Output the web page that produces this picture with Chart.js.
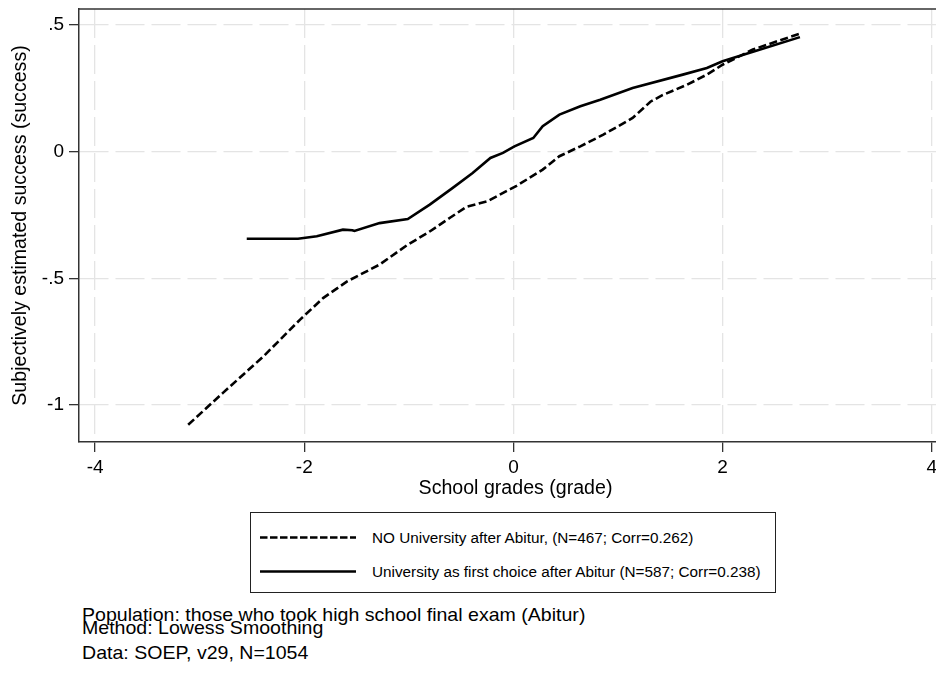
<!DOCTYPE html>
<html lang="en">
<head>
    <meta charset="UTF-8">
    <title>Lowess: School grades vs. subjectively estimated success</title>
    <script src="https://cdn.jsdelivr.net/npm/chart.js"></script>
    <style>
        html, body {
            margin: 0;
            padding: 0;
            background: #ffffff;
            overflow: hidden;
            font-family: "Liberation Sans", Arial, sans-serif;
            color: #000;
        }
        #wrap {
            position: relative;
            width: 936px;
            height: 677px;
            overflow: hidden;
        }
        #chart {
            position: absolute;
            left: 0;
            top: 0;
        }
        #legend {
            position: absolute;
            left: 250px;
            top: 512px;
            width: 526px;
            height: 81px;
            border: 1px solid #222;
            box-sizing: border-box;
        }
        .row {
            position: absolute;
            left: 0;
            font-size: 15.3px;
            line-height: 1;
            white-space: nowrap;
        }
        .row svg {
            position: absolute;
            left: 8px;
        }
        .row span {
            position: absolute;
            left: 121px;
        }
        .note {
            position: absolute;
            left: 82px;
            font-size: 17.8px;
            line-height: 1;
            white-space: nowrap;
            transform: scaleX(1.1);
            transform-origin: left top;
        }
    </style>
</head>
<body>

<div id="wrap">
    <canvas id="chart" width="952" height="500"></canvas>

    <div id="legend">
        <div class="row" style="top:0">
            <svg width="98" height="40" style="top:4px">
                <line x1="1" y1="20.5" x2="97" y2="20.5" stroke="#000" stroke-width="2.6" stroke-dasharray="7.5 2.5"></line>
            </svg>
            <span style="top:17px">NO University after Abitur, (N=467; Corr=0.262)</span>
        </div>
        <div class="row" style="top:0">
            <svg width="98" height="40" style="top:38px">
                <line x1="1" y1="20.5" x2="97" y2="20.5" stroke="#000" stroke-width="2.6"></line>
            </svg>
            <span style="top:51px">University as first choice after Abitur (N=587; Corr=0.238)</span>
        </div>
    </div>

    <div class="note" style="top:606.6px">Population: those who took high school final exam (Abitur)</div>
    <div class="note" style="top:620px">Method: Lowess Smoothing</div>
    <div class="note" style="top:645px">Data: SOEP, v29, N=1054</div>
</div>

<script>
    // tick labels
    const xTicks = [-4, -2, 0, 2, 4];
    const yTicks = [-1, -0.5, 0, 0.5];

    // NO University after Abitur (dashed)
    const noUniX = [-3.11, -2.78, -2.39, -2.04, -1.82, -1.59, -1.28, -1.02, -0.80, -0.61, -0.45, -0.25,
                    -0.03, 0.03, 0.28, 0.44, 0.64, 0.86, 1.14, 1.31, 1.42, 1.66, 1.85, 2.00, 2.29, 2.74];
    const noUniY = [-1.078, -0.953, -0.808, -0.663, -0.578, -0.512, -0.446, -0.370, -0.315, -0.262, -0.218, -0.196,
                    -0.148, -0.135, -0.071, -0.018, 0.021, 0.067, 0.133, 0.197, 0.222, 0.264, 0.304, 0.343, 0.403, 0.466];

    // University as first choice after Abitur (solid)
    const uniX = [-2.55, -2.06, -1.88, -1.63, -1.54, -1.52, -1.28, -1.01, -0.80, -0.58, -0.39, -0.22,
                  -0.10, 0.01, 0.19, 0.28, 0.44, 0.64, 0.83, 1.14, 1.62, 1.85, 2.00, 2.36, 2.74];
    const uniY = [-0.344, -0.344, -0.334, -0.308, -0.310, -0.313, -0.282, -0.266, -0.209, -0.143, -0.084, -0.025,
                  -0.005, 0.021, 0.054, 0.100, 0.146, 0.179, 0.205, 0.251, 0.304, 0.330, 0.357, 0.403, 0.452];

    const toPoints = (xs, ys) => xs.map((x, i) => ({ x: x, y: ys[i] }));

    const fontFamily = '"Liberation Sans", Arial, sans-serif';

    // Stata-style frame: the top edge is not an axis, so draw it here
    const topFrame = {
        id: 'topFrame',
        afterDraw(chart) {
            const { ctx, chartArea } = chart;
            ctx.save();
            ctx.strokeStyle = '#333';
            ctx.lineWidth = 1.5;
            ctx.beginPath();
            ctx.moveTo(chartArea.left, chartArea.top);
            ctx.lineTo(chartArea.right, chartArea.top);
            ctx.stroke();
            ctx.restore();
        }
    };

    const ctx = document.getElementById('chart').getContext('2d');

    new Chart(ctx, {
        type: 'scatter',
        data: {
            datasets: [
                {
                    label: 'NO University after Abitur, (N=467; Corr=0.262)',
                    data: toPoints(noUniX, noUniY),
                    showLine: true,
                    borderColor: '#000',
                    borderWidth: 2.6,
                    borderDash: [8, 3.5],
                    pointRadius: 0,
                    tension: 0
                },
                {
                    label: 'University as first choice after Abitur (N=587; Corr=0.238)',
                    data: toPoints(uniX, uniY),
                    showLine: true,
                    borderColor: '#000',
                    borderWidth: 2.6,
                    pointRadius: 0,
                    tension: 0
                }
            ]
        },
        options: {
            responsive: false,
            animation: false,
            layout: {
                padding: { top: 9, left: 0, right: 0, bottom: 0 }
            },
            plugins: {
                legend: { display: false },
                tooltip: { enabled: false }
            },
            scales: {
                x: {
                    type: 'linear',
                    min: -4.154,
                    max: 4.194,
                    afterBuildTicks: (scale) => {
                        scale.ticks = xTicks.map(v => ({ value: v }));
                    },
                    afterFit: (scale) => {
                        scale.height = 58;
                        scale.paddingLeft = 0;
                        scale.paddingRight = 0;
                    },
                    ticks: {
                        color: '#000',
                        font: { family: fontFamily, size: 19 },
                        padding: 4,
                        maxRotation: 0,
                        callback: (v) => String(v)
                    },
                    grid: {
                        color: '#e4e4e4',
                        lineWidth: 1.3,
                        tickLength: 10,
                        tickColor: '#333',
                        tickWidth: 1.3
                    },
                    border: {
                        color: '#333',
                        width: 1.5,
                        dash: [29, 7]
                    },
                    title: {
                        display: true,
                        text: 'School grades (grade)',
                        color: '#000',
                        font: { family: fontFamily, size: 19.6 },
                        padding: { top: 0, bottom: 0 }
                    }
                },
                y: {
                    type: 'linear',
                    min: -1.146,
                    max: 0.563,
                    afterBuildTicks: (scale) => {
                        scale.ticks = yTicks.map(v => ({ value: v }));
                    },
                    afterFit: (scale) => {
                        scale.width = 79;
                        scale.paddingTop = 0;
                        scale.paddingBottom = 0;
                    },
                    ticks: {
                        color: '#000',
                        font: { family: fontFamily, size: 19 },
                        padding: 5,
                        callback: (v) => String(v).replace('0.', '.')
                    },
                    grid: {
                        color: '#e4e4e4',
                        lineWidth: 1.3,
                        tickLength: 10,
                        tickColor: '#333',
                        tickWidth: 1.3
                    },
                    border: {
                        color: '#333',
                        width: 1.5,
                        dash: [29, 7]
                    },
                    title: {
                        display: true,
                        text: 'Subjectively estimated success (success)',
                        color: '#000',
                        font: { family: fontFamily, size: 19.6 },
                        padding: { top: 9, bottom: 0 }
                    }
                }
            }
        },
        plugins: [topFrame]
    });
</script>

</body>
</html>
